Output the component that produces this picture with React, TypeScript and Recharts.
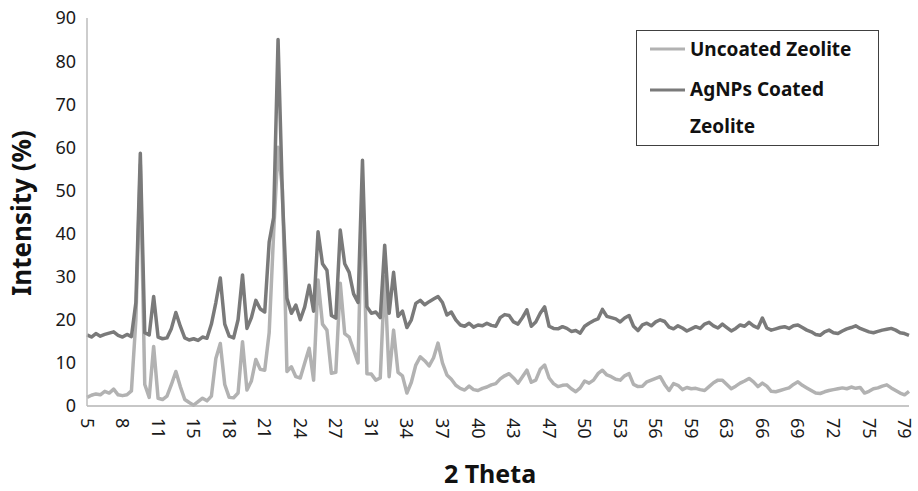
import React from 'react';
import { LineChart, Line, XAxis, YAxis } from 'recharts';

// 2-theta sampling (degrees), every 0.4 deg from 5.0 to 79.0
const thetas: number[] = Array.from({ length: 186 }, (_, i) => Number((5 + 0.4 * i).toFixed(1)));

const tickLabels = ['5', '8', '11', '15', '18', '21', '24', '27', '31', '34', '37', '40', '43', '47', '50', '53', '56', '59', '63', '66', '69', '72', '75', '79'];
const yTicks = [0, 10, 20, 30, 40, 50, 60, 70, 80, 90];

const uncoated: number[] = [
  2.0, 2.5, 2.8, 2.6, 3.4, 3.0, 3.9, 2.6, 2.4, 2.6,
  3.5, 20, 56, 5, 2, 13.8, 1.8, 1.5, 2.3, 5,
  8.0, 4.5, 1.5, 0.8, 0.2, 1.0, 1.8, 1.2, 2.3, 11,
  14.5, 5, 2, 1.9, 3, 14.9, 3.7, 5.8, 10.8, 8.5,
  8.3, 17, 40, 60, 50, 8, 9.1, 6.8, 6.5, 10,
  13.4, 6, 29.2, 19, 17.6, 7.6, 7.8, 28.5, 16.8, 16,
  13, 10, 52, 7.5, 7.4, 6.0, 6.5, 30, 6.8, 17.6,
  7.8, 7.0, 3.0, 5.5, 9.5, 11.4, 10.5, 9.3, 11.2, 14.6,
  10, 7.2, 6.2, 4.8, 4.1, 3.7, 4.6, 3.8, 3.6, 4.1,
  4.4, 4.9, 5.2, 6.3, 7.0, 7.5, 6.5, 5.3, 6.8, 8.3,
  5.5, 6.0, 8.5, 9.5, 6.5, 5.2, 4.5, 4.8, 4.9, 4.0,
  3.3, 4.2, 5.8, 5.3, 6.0, 7.5, 8.3, 7.2, 6.8, 6.2,
  6.0, 7.0, 7.5, 5.0, 4.5, 4.6, 5.6, 6.0, 6.4, 6.8,
  5.0, 3.6, 5.2, 4.8, 3.8, 4.3, 4.0, 4.1, 3.8, 3.6,
  4.5, 5.4, 6.0, 6.0, 5.0, 4.0, 4.6, 5.3, 5.8, 6.4,
  5.6, 4.5, 5.3, 4.6, 3.4, 3.3, 3.6, 3.9, 4.2, 5.0,
  5.6, 4.8, 4.2, 3.6, 3.0, 2.9, 3.3, 3.6, 3.8, 4.0,
  4.2, 4.0, 4.4, 4.1, 4.3, 3.0, 3.4, 4.0, 4.2, 4.6,
  4.9, 4.2, 3.6, 3.0, 2.6, 3.4,
];

const coated: number[] = [
  16.5, 16.0, 16.8, 16.2, 16.6, 16.9, 17.2, 16.4, 16.0, 16.6,
  16.1, 24, 58.6, 17, 16.5, 25.4, 16.0, 15.6, 15.8, 18,
  21.7, 18.5, 15.8, 15.3, 15.6, 15.2, 16.0, 15.7, 19, 24,
  29.7, 19, 16.2, 15.8, 20, 30.4, 18, 20.5, 24.5, 22.5,
  21.8, 38, 43.7, 85, 48, 25, 21.5, 23.4, 20, 23,
  28, 22, 40.4, 33, 31.5, 21, 20.4, 40.8, 33, 31,
  26, 24, 57, 23, 21.5, 21.8, 20.5, 37.3, 21.5, 31,
  20.8, 22, 18.2, 20, 23.8, 24.5, 23.5, 24.2, 24.8, 25.4,
  24, 21.1, 21.8, 20, 18.8, 18.5, 19.2, 18.3, 18.8, 18.6,
  19.2, 18.7, 18.5, 20.5, 21.2, 21, 19.5, 19, 20.5, 22.3,
  18.5, 19.5, 21.5, 23, 18.5, 18.0, 17.9, 18.4, 18.0, 17.3,
  17.5, 16.9, 18.5, 19.2, 19.8, 20.2, 22.4, 20.8, 20.5, 20.2,
  19.5, 20.4, 21, 18.5, 17.5, 18.8, 19.2, 18.6, 19.5, 20.0,
  19.6, 18.3, 17.9, 18.6, 18.1, 17.4, 17.9, 18.4, 18.0, 19.0,
  19.4, 18.6, 18.1, 19.0, 18.2, 17.4, 18.0, 18.8, 18.5, 19.4,
  18.6, 18.1, 20.4, 18.1, 17.6, 17.9, 18.2, 18.4, 18.0, 18.6,
  18.8, 18.2, 17.6, 17.2, 16.6, 16.4, 17.2, 17.6, 17.0, 16.8,
  17.4, 17.9, 18.2, 18.6, 18.0, 17.6, 17.2, 17.0, 17.3, 17.6,
  17.8, 18.0, 17.6, 17.0, 16.8, 16.4,
];

const data = thetas.map((theta, i) => ({ theta, uncoated: uncoated[i], coated: coated[i] }));

const FONT = '"Noto Sans", "DejaVu Sans", sans-serif';
const LIGHT = '#b2b2b2';
const DARK = '#7a7a7a';

const XTick = (props: any) => {
  const { x, y, payload } = props;
  const v = Number(payload && payload.value);
  const li = Math.round((v - 5) / 3.2);
  const label = tickLabels[li] !== undefined ? tickLabels[li] : String(Math.round(v));
  return (
    <g transform={`translate(${x},${y})`}>
      <text transform="rotate(90)" x={12} y={0} dy="0.36em" textAnchor="start" fontSize={18} fontFamily={FONT} fill="#1a1a1a">
        {label}
      </text>
    </g>
  );
};

const YTick = (props: any) => {
  const { x, y, payload } = props;
  return (
    <text x={x} y={y} dy="0.36em" textAnchor="end" fontSize={18} fontFamily={FONT} fill="#1a1a1a">
      {payload.value}
    </text>
  );
};

export default function App() {
  return (
    <div style={{ position: 'absolute', left: 0, top: 0, width: 918, height: 491, background: '#fff' }}>
      <LineChart width={918} height={491} data={data} margin={{ top: 18, right: 9, bottom: 0, left: 0 }}>
        <XAxis
          dataKey="theta"
          type="category"
          interval={7}
          height={85}
          tickSize={0}
          tickMargin={0}
          tickLine={false}
          axisLine={{ stroke: '#b5b5b5', strokeWidth: 1.5 }}
          tick={<XTick />}
        />
        <YAxis
          type="number"
          domain={[0, 90]}
          ticks={yTicks}
          width={87}
          tickSize={0}
          tickMargin={11}
          tickLine={false}
          axisLine={{ stroke: '#bdbdbd', strokeWidth: 1.5 }}
          tick={<YTick />}
        />
        <Line type="linear" dataKey="uncoated" stroke={LIGHT} strokeWidth={3.5} dot={false} isAnimationActive={false} strokeLinejoin="round" />
        <Line type="linear" dataKey="coated" stroke={DARK} strokeWidth={3.5} dot={false} isAnimationActive={false} strokeLinejoin="round" />
      </LineChart>
      <svg width={918} height={491} style={{ position: 'absolute', left: 0, top: 0, pointerEvents: 'none' }}>
        <text transform="translate(31,213) rotate(-90)" textAnchor="middle" fontSize={26} fontWeight={700} fontFamily={FONT} fill="#111">
          Intensity (%)
        </text>
        <text x={490} y={483} textAnchor="middle" fontSize={25} fontWeight={700} fontFamily={FONT} fill="#111">
          2 Theta
        </text>
        <rect x={636.5} y={30.5} width={242} height={115} fill="#fff" stroke="#404040" strokeWidth={1} />
        <line x1={650} y1={49} x2={685} y2={49} stroke={LIGHT} strokeWidth={3} />
        <text x={690} y={56} fontSize={19} fontWeight={700} fontFamily={FONT} fill="#111">Uncoated Zeolite</text>
        <line x1={650} y1={90} x2={685} y2={90} stroke={DARK} strokeWidth={3} />
        <text x={690} y={96} fontSize={19} fontWeight={700} fontFamily={FONT} fill="#111">AgNPs Coated</text>
        <text x={690} y={133} fontSize={19} fontWeight={700} fontFamily={FONT} fill="#111">Zeolite</text>
      </svg>
    </div>
  );
}
